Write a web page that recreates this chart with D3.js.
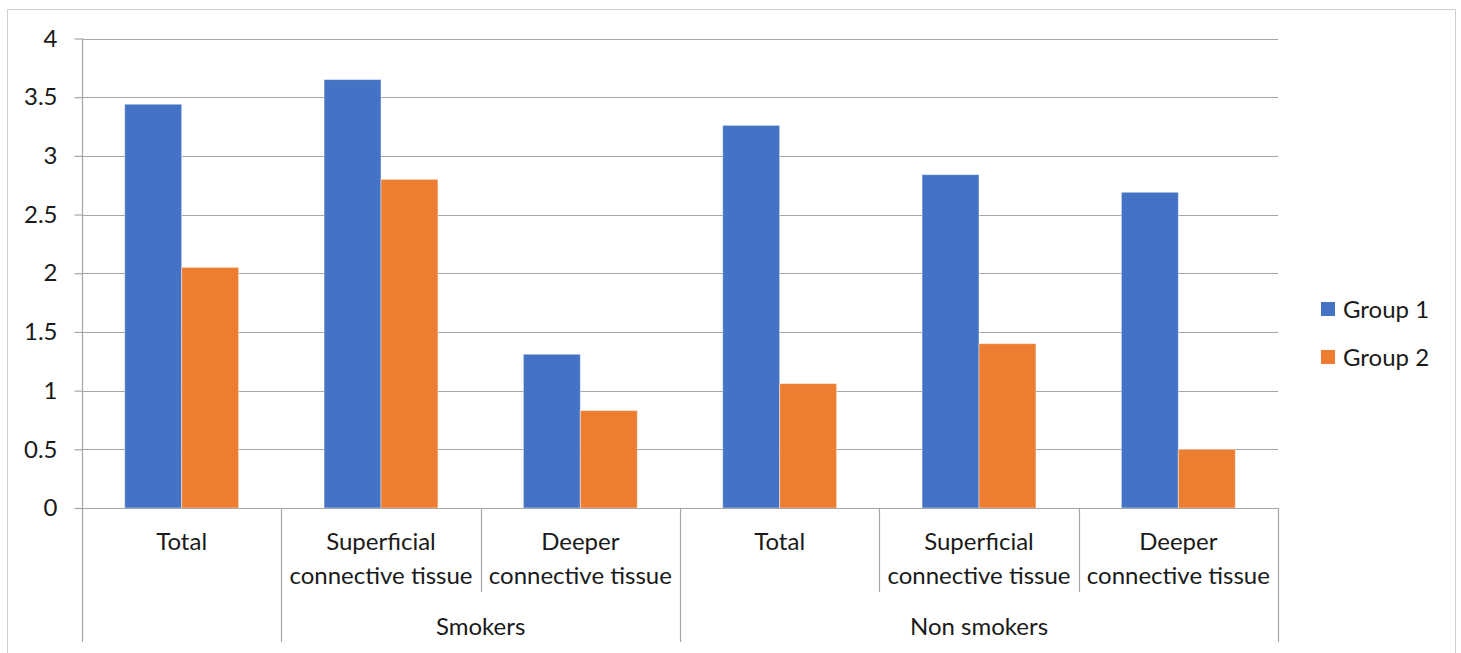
<!DOCTYPE html>
<html>
<head>
<meta charset="utf-8">
<script src="https://cdn.jsdelivr.net/npm/d3@7"></script>
<style>
  html, body { margin: 0; padding: 0; background: #fff; }
  svg { display: block; }
  text { font-family: Lato, "Open Sans", sans-serif; fill: #1a1a1a; }
</style>
</head>
<body>
<svg id="chart" width="1461" height="653"></svg>
<script>
// Category rows: sub-category label and its parent group
const categories = ["Total", "Superficial connective tissue", "Deeper connective tissue",
                    "Total", "Superficial connective tissue", "Deeper connective tissue"];
const parentGroups = [
  { name: "", start: 0, end: 1 },
  { name: "Smokers", start: 1, end: 3 },
  { name: "Non smokers", start: 3, end: 6 }
];
const seriesNames = ["Group 1", "Group 2"];
const group1 = [3.44, 3.65, 1.31, 3.26, 2.84, 2.69];
const group2 = [2.05, 2.80, 0.83, 1.06, 1.40, 0.50];
const yTicks = [0, 0.5, 1, 1.5, 2, 2.5, 3, 3.5, 4];
const colors = ["#4472C4", "#ED7D31"];

const FONT = 24;
const svg = d3.select("#chart");
const plot = { left: 82, right: 1278, top: 38.5, bottom: 508 };

// Outer frame
svg.append("rect")
  .attr("x", 7.5).attr("y", 9.5)
  .attr("width", 1448).attr("height", 700)
  .attr("fill", "none").attr("stroke", "#d0d0d0").attr("stroke-width", 1);

const idx = d3.range(categories.length);
const x0 = d3.scaleBand().domain(idx).range([plot.left, plot.right]).paddingInner(0).paddingOuter(0);
const x1 = d3.scaleBand().domain(seriesNames).range([0, x0.bandwidth()]).paddingInner(0).paddingOuter(0.75);
const y = d3.scaleLinear().domain([0, 4]).range([plot.bottom, plot.top]);

// Horizontal gridlines
svg.append("g").selectAll("line").data(yTicks.filter(d => d > 0)).join("line")
  .attr("x1", plot.left).attr("x2", plot.right)
  .attr("y1", d => Math.round(y(d)) + 0.5).attr("y2", d => Math.round(y(d)) + 0.5)
  .attr("stroke", "#a6a6a6").attr("stroke-width", 1.2);

// Bars
const series = [group1, group2];
const barG = svg.append("g");
series.forEach((vals, si) => {
  barG.append("g").selectAll("rect").data(vals).join("rect")
    .attr("x", (d, i) => x0(i) + x1(seriesNames[si]))
    .attr("width", x1.bandwidth())
    .attr("y", d => y(d))
    .attr("height", d => y(0) - y(d))
    .attr("fill", colors[si])
    .attr("stroke", "rgba(255,255,255,0.45)")
    .attr("stroke-width", 1);
});

// Y axis with outward ticks
const yAxis = d3.axisLeft(y).tickValues(yTicks).tickSize(8).tickPadding(17)
  .tickFormat(d => String(d));
const yg = svg.append("g").attr("transform", `translate(${plot.left + 0.5},0)`).call(yAxis);
yg.select(".domain").remove();
yg.selectAll(".tick line").attr("stroke", "#a6a6a6").attr("stroke-width", 1.2);
yg.selectAll(".tick text").attr("font-size", FONT).attr("fill", "#1a1a1a")
  .style("font-family", "Lato, 'Open Sans', sans-serif");

// Axis baseline
svg.append("line")
  .attr("x1", plot.left).attr("x2", plot.right)
  .attr("y1", plot.bottom + 0.5).attr("y2", plot.bottom + 0.5)
  .attr("stroke", "#a6a6a6").attr("stroke-width", 1.2);

// Category separators: long at parent-group edges, short between sub-categories
const boundaries = d3.range(categories.length + 1);
const groupEdges = new Set(parentGroups.flatMap(g => [g.start, g.end]));
svg.append("g").selectAll("line").data(boundaries).join("line")
  .attr("x1", i => Math.round(i < categories.length ? x0(i) : plot.right) + 0.5)
  .attr("x2", i => Math.round(i < categories.length ? x0(i) : plot.right) + 0.5)
  .attr("y1", i => i === 0 ? plot.top : plot.bottom)
  .attr("y2", i => groupEdges.has(i) ? 642 : 592)
  .attr("stroke", "#a6a6a6").attr("stroke-width", 1.2);

// Category labels (wrapped onto two lines)
const wrap = s => {
  const m = s.match(/^(\S+)\s(.+)$/);
  return m ? [m[1], m[2]] : [s];
};
const catG = svg.append("g");
categories.forEach((c, i) => {
  const cx = x0(i) + x0.bandwidth() / 2;
  wrap(c).forEach((line, li) => {
    catG.append("text")
      .attr("x", cx).attr("y", 550 + li * 33.5)
      .attr("text-anchor", "middle").attr("font-size", FONT)
      .text(line);
  });
});

// Parent group labels
svg.append("g").selectAll("text").data(parentGroups.filter(g => g.name)).join("text")
  .attr("x", g => (x0(g.start) + (g.end < categories.length ? x0(g.end) : plot.right)) / 2)
  .attr("y", 635)
  .attr("text-anchor", "middle").attr("font-size", FONT)
  .text(g => g.name);

// Legend
const legend = svg.append("g").selectAll("g").data(seriesNames).join("g")
  .attr("transform", (d, i) => `translate(1321, ${302 + i * 48})`);
legend.append("rect").attr("width", 14).attr("height", 14).attr("fill", (d, i) => colors[i]);
legend.append("text").attr("x", 22).attr("y", 15.5).attr("font-size", FONT).text(d => d);
</script>
</body>
</html>
